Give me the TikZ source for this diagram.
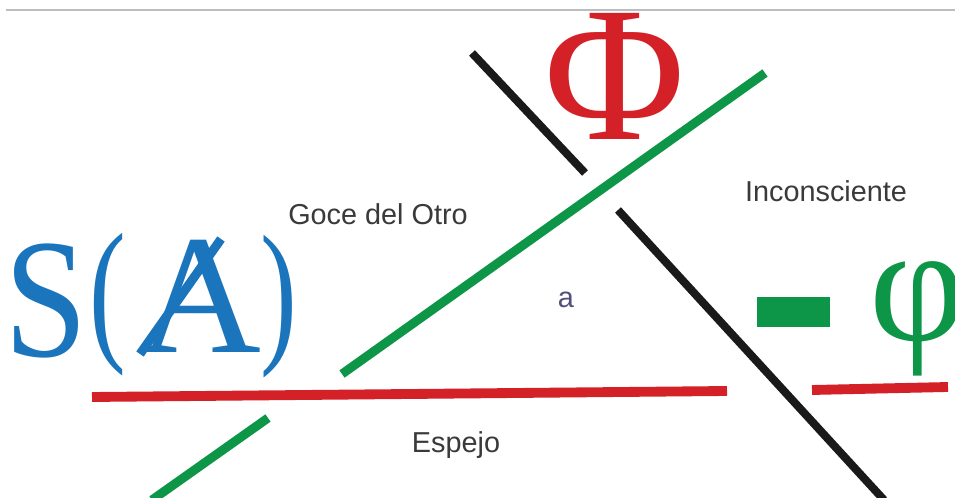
\documentclass[tikz,border=0pt]{standalone}
\usepackage{fontspec}
\usepackage{tikz}
\setmainfont{Liberation Serif}
\newfontfamily\labelfont{Liberation Sans}
\definecolor{LcRed}{HTML}{D42027}
\definecolor{LcGreen}{HTML}{0E9648}
\definecolor{LcBlue}{HTML}{1B75BC}
\definecolor{LcBlack}{HTML}{1A1A1A}
\definecolor{LcGray}{HTML}{BDBDBD}
\definecolor{LcText}{HTML}{3A3A3A}
\definecolor{LcSlate}{HTML}{50507A}

\begin{document}
\begin{tikzpicture}[x=0.025cm,y=-0.025cm,
  lbl/.style={inner sep=0pt,anchor=base,text=LcText,font=\labelfont\fontsize{20.5}{20.5}\selectfont},
  glyph/.style={inner sep=0pt,anchor=base}]
\path[use as bounding box] (0,0) rectangle (955,498);
\fill[white] (0,0) rectangle (955,498);
% the three bars
\draw[LcBlack,line width=5.7pt] (472,53) -- (585,173);
\draw[LcBlack,line width=5.7pt] (618,210) -- (884,500);
\draw[LcGreen,line width=6.4pt] (342,374) -- (765,73);
\draw[LcGreen,line width=6.4pt] (268,418) -- (152,500);
\draw[LcRed,line width=7pt] (92,397) -- (727,391);
\draw[LcRed,line width=7pt] (812,390) -- (948,387);
% S(A)
\node[glyph,text=LcBlue,font=\fontsize{121}{121}\selectfont] (sig) at (46,357) {\scalebox{0.88}[1]{S}};
\node[glyph,text=LcBlue,font=\fontsize{112}{112}\selectfont] (lpar) at (108,343) {\scalebox{0.7}[1]{(}};
\node[glyph,text=LcBlue,font=\fontsize{121}{121}\selectfont] (autre) at (200,353) {A};
\node[glyph,text=LcBlue,font=\fontsize{112}{112}\selectfont] (rpar) at (279,345) {\scalebox{0.7}[1]{)}};
\draw[LcBlue,line width=6.4pt] (140,354) -- (221,239);
% Phi and -phi
\node[glyph,text=LcRed,font=\fontsize{137}{137}\selectfont] (phal) at (615,140) {Φ};
\fill[LcGreen] (757,297) rectangle (830,327);
\node[glyph,text=LcGreen,font=\fontsize{119}{119}\selectfont] (mphi) at (918,341) {φ};
% labels
\node[lbl] (goce) at (378,225) {Goce del Otro};
\node[lbl] (incons) at (826,202) {Inconsciente};
\node[lbl] (espejo) at (456,452) {Espejo};
\node[lbl,text=LcSlate] (obja) at (566,308) {a};
\draw[LcGray,line width=1.2pt] (6,10) -- (955,10);
\end{tikzpicture}
\end{document}
